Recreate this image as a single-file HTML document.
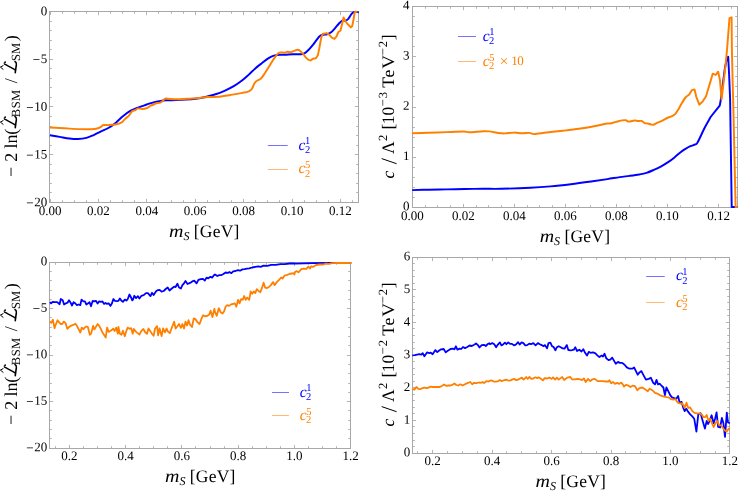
<!DOCTYPE html>
<html><head><meta charset="utf-8"><title>plots</title>
<style>
html,body{margin:0;padding:0;background:#fff;}
body{width:739px;height:493px;overflow:hidden;font-family:"Liberation Serif",serif;}
svg{display:block;will-change:transform;}
text{text-rendering:geometricPrecision;}
</style></head><body>
<svg width="739" height="493" viewBox="0 0 739 493">
<g font-family="Liberation Serif, serif" font-size="13" fill="#000">
<path d="M50.5 202.5v-3.6 M50.5 11.5v3.6 M62.5 202.5v-2.3 M62.5 11.5v2.3 M74.5 202.5v-2.3 M74.5 11.5v2.3 M86.5 202.5v-2.3 M86.5 11.5v2.3 M98.5 202.5v-3.6 M98.5 11.5v3.6 M110.5 202.5v-2.3 M110.5 11.5v2.3 M122.5 202.5v-2.3 M122.5 11.5v2.3 M134.5 202.5v-2.3 M134.5 11.5v2.3 M146.5 202.5v-3.6 M146.5 11.5v3.6 M158.5 202.5v-2.3 M158.5 11.5v2.3 M171.5 202.5v-2.3 M171.5 11.5v2.3 M183.5 202.5v-2.3 M183.5 11.5v2.3 M195.5 202.5v-3.6 M195.5 11.5v3.6 M207.5 202.5v-2.3 M207.5 11.5v2.3 M219.5 202.5v-2.3 M219.5 11.5v2.3 M231.5 202.5v-2.3 M231.5 11.5v2.3 M243.5 202.5v-3.6 M243.5 11.5v3.6 M255.5 202.5v-2.3 M255.5 11.5v2.3 M267.5 202.5v-2.3 M267.5 11.5v2.3 M279.5 202.5v-2.3 M279.5 11.5v2.3 M292.5 202.5v-3.6 M292.5 11.5v3.6 M304.5 202.5v-2.3 M304.5 11.5v2.3 M316.5 202.5v-2.3 M316.5 11.5v2.3 M328.5 202.5v-2.3 M328.5 11.5v2.3 M340.5 202.5v-3.6 M340.5 11.5v3.6 M352.5 202.5v-2.3 M352.5 11.5v2.3 M49.5 202.5h3.6 M358.5 202.5h-3.6 M49.5 192.5h2.3 M358.5 192.5h-2.3 M49.5 183.5h2.3 M358.5 183.5h-2.3 M49.5 173.5h2.3 M358.5 173.5h-2.3 M49.5 164.5h2.3 M358.5 164.5h-2.3 M49.5 154.5h3.6 M358.5 154.5h-3.6 M49.5 145.5h2.3 M358.5 145.5h-2.3 M49.5 135.5h2.3 M358.5 135.5h-2.3 M49.5 126.5h2.3 M358.5 126.5h-2.3 M49.5 116.5h2.3 M358.5 116.5h-2.3 M49.5 106.5h3.6 M358.5 106.5h-3.6 M49.5 97.5h2.3 M358.5 97.5h-2.3 M49.5 87.5h2.3 M358.5 87.5h-2.3 M49.5 78.5h2.3 M358.5 78.5h-2.3 M49.5 68.5h2.3 M358.5 68.5h-2.3 M49.5 59.5h3.6 M358.5 59.5h-3.6 M49.5 49.5h2.3 M358.5 49.5h-2.3 M49.5 40.5h2.3 M358.5 40.5h-2.3 M49.5 30.5h2.3 M358.5 30.5h-2.3 M49.5 21.5h2.3 M358.5 21.5h-2.3 M49.5 11.5h3.6 M358.5 11.5h-3.6" stroke="#b4b4b4" stroke-width="1" fill="none"/>
<rect x="49.5" y="11.5" width="309" height="191" fill="none" stroke="#a8a8a8" stroke-width="1"/>
<text x="50" y="215.1" text-anchor="middle">0.00</text>
<text x="98.4" y="215.1" text-anchor="middle">0.02</text>
<text x="146.8" y="215.1" text-anchor="middle">0.04</text>
<text x="195.2" y="215.1" text-anchor="middle">0.06</text>
<text x="243.6" y="215.1" text-anchor="middle">0.08</text>
<text x="292" y="215.1" text-anchor="middle">0.10</text>
<text x="340.4" y="215.1" text-anchor="middle">0.12</text>
<text transform="translate(47.3,206.15) rotate(0.05)" text-anchor="end"><tspan dy="1.0" letter-spacing="0.7">−</tspan><tspan dy="-1.0">20</tspan></text>
<text transform="translate(47.3,158.4) rotate(0.05)" text-anchor="end"><tspan dy="1.0" letter-spacing="0.7">−</tspan><tspan dy="-1.0">15</tspan></text>
<text transform="translate(47.3,110.65) rotate(0.05)" text-anchor="end"><tspan dy="1.0" letter-spacing="0.7">−</tspan><tspan dy="-1.0">10</tspan></text>
<text transform="translate(47.3,62.9) rotate(0.05)" text-anchor="end"><tspan dy="1.0" letter-spacing="0.7">−</tspan><tspan dy="-1.0">5</tspan></text>
<text transform="translate(47.3,15.15) rotate(0.05)" text-anchor="end">0</text>
<path d="M412.5 207.5v-3.6 M412.5 6.5v3.6 M425.5 207.5v-2.3 M425.5 6.5v2.3 M437.5 207.5v-2.3 M437.5 6.5v2.3 M450.5 207.5v-2.3 M450.5 6.5v2.3 M463.5 207.5v-3.6 M463.5 6.5v3.6 M476.5 207.5v-2.3 M476.5 6.5v2.3 M488.5 207.5v-2.3 M488.5 6.5v2.3 M501.5 207.5v-2.3 M501.5 6.5v2.3 M514.5 207.5v-3.6 M514.5 6.5v3.6 M527.5 207.5v-2.3 M527.5 6.5v2.3 M539.5 207.5v-2.3 M539.5 6.5v2.3 M552.5 207.5v-2.3 M552.5 6.5v2.3 M565.5 207.5v-3.6 M565.5 6.5v3.6 M578.5 207.5v-2.3 M578.5 6.5v2.3 M590.5 207.5v-2.3 M590.5 6.5v2.3 M603.5 207.5v-2.3 M603.5 6.5v2.3 M616.5 207.5v-3.6 M616.5 6.5v3.6 M629.5 207.5v-2.3 M629.5 6.5v2.3 M641.5 207.5v-2.3 M641.5 6.5v2.3 M654.5 207.5v-2.3 M654.5 6.5v2.3 M667.5 207.5v-3.6 M667.5 6.5v3.6 M680.5 207.5v-2.3 M680.5 6.5v2.3 M692.5 207.5v-2.3 M692.5 6.5v2.3 M705.5 207.5v-2.3 M705.5 6.5v2.3 M718.5 207.5v-3.6 M718.5 6.5v3.6 M731.5 207.5v-2.3 M731.5 6.5v2.3 M412.5 207.5h3.6 M737.5 207.5h-3.6 M412.5 197.5h2.3 M737.5 197.5h-2.3 M412.5 187.5h2.3 M737.5 187.5h-2.3 M412.5 177.5h2.3 M737.5 177.5h-2.3 M412.5 167.5h2.3 M737.5 167.5h-2.3 M412.5 157.5h3.6 M737.5 157.5h-3.6 M412.5 147.5h2.3 M737.5 147.5h-2.3 M412.5 137.5h2.3 M737.5 137.5h-2.3 M412.5 127.5h2.3 M737.5 127.5h-2.3 M412.5 117.5h2.3 M737.5 117.5h-2.3 M412.5 107.5h3.6 M737.5 107.5h-3.6 M412.5 96.5h2.3 M737.5 96.5h-2.3 M412.5 86.5h2.3 M737.5 86.5h-2.3 M412.5 76.5h2.3 M737.5 76.5h-2.3 M412.5 66.5h2.3 M737.5 66.5h-2.3 M412.5 56.5h3.6 M737.5 56.5h-3.6 M412.5 46.5h2.3 M737.5 46.5h-2.3 M412.5 36.5h2.3 M737.5 36.5h-2.3 M412.5 26.5h2.3 M737.5 26.5h-2.3 M412.5 16.5h2.3 M737.5 16.5h-2.3 M412.5 6.5h3.6 M737.5 6.5h-3.6" stroke="#b4b4b4" stroke-width="1" fill="none"/>
<rect x="412.5" y="6.5" width="325" height="201" fill="none" stroke="#a8a8a8" stroke-width="1"/>
<text x="412.38" y="220.1" text-anchor="middle">0.00</text>
<text x="463.4" y="220.1" text-anchor="middle">0.02</text>
<text x="514.42" y="220.1" text-anchor="middle">0.04</text>
<text x="565.44" y="220.1" text-anchor="middle">0.06</text>
<text x="616.46" y="220.1" text-anchor="middle">0.08</text>
<text x="667.48" y="220.1" text-anchor="middle">0.10</text>
<text x="718.5" y="220.1" text-anchor="middle">0.12</text>
<text transform="translate(409.4,210.35) rotate(0.05)" text-anchor="end">0</text>
<text transform="translate(409.4,160.1) rotate(0.05)" text-anchor="end">1</text>
<text transform="translate(409.4,109.85) rotate(0.05)" text-anchor="end">2</text>
<text transform="translate(409.4,59.6) rotate(0.05)" text-anchor="end">3</text>
<text transform="translate(409.4,9.35) rotate(0.05)" text-anchor="end">4</text>
<path d="M55.5 448.5v-2.3 M55.5 262.5v2.3 M69.5 448.5v-3.6 M69.5 262.5v3.6 M83.5 448.5v-2.3 M83.5 262.5v2.3 M97.5 448.5v-2.3 M97.5 262.5v2.3 M111.5 448.5v-2.3 M111.5 262.5v2.3 M125.5 448.5v-3.6 M125.5 262.5v3.6 M139.5 448.5v-2.3 M139.5 262.5v2.3 M153.5 448.5v-2.3 M153.5 262.5v2.3 M167.5 448.5v-2.3 M167.5 262.5v2.3 M181.5 448.5v-3.6 M181.5 262.5v3.6 M195.5 448.5v-2.3 M195.5 262.5v2.3 M210.5 448.5v-2.3 M210.5 262.5v2.3 M224.5 448.5v-2.3 M224.5 262.5v2.3 M238.5 448.5v-3.6 M238.5 262.5v3.6 M252.5 448.5v-2.3 M252.5 262.5v2.3 M266.5 448.5v-2.3 M266.5 262.5v2.3 M280.5 448.5v-2.3 M280.5 262.5v2.3 M294.5 448.5v-3.6 M294.5 262.5v3.6 M308.5 448.5v-2.3 M308.5 262.5v2.3 M322.5 448.5v-2.3 M322.5 262.5v2.3 M336.5 448.5v-2.3 M336.5 262.5v2.3 M350.5 448.5v-3.6 M350.5 262.5v3.6 M49.5 448.5h3.6 M350.5 448.5h-3.6 M49.5 438.5h2.3 M350.5 438.5h-2.3 M49.5 429.5h2.3 M350.5 429.5h-2.3 M49.5 420.5h2.3 M350.5 420.5h-2.3 M49.5 410.5h2.3 M350.5 410.5h-2.3 M49.5 401.5h3.6 M350.5 401.5h-3.6 M49.5 392.5h2.3 M350.5 392.5h-2.3 M49.5 383.5h2.3 M350.5 383.5h-2.3 M49.5 373.5h2.3 M350.5 373.5h-2.3 M49.5 364.5h2.3 M350.5 364.5h-2.3 M49.5 355.5h3.6 M350.5 355.5h-3.6 M49.5 345.5h2.3 M350.5 345.5h-2.3 M49.5 336.5h2.3 M350.5 336.5h-2.3 M49.5 327.5h2.3 M350.5 327.5h-2.3 M49.5 317.5h2.3 M350.5 317.5h-2.3 M49.5 308.5h3.6 M350.5 308.5h-3.6 M49.5 299.5h2.3 M350.5 299.5h-2.3 M49.5 290.5h2.3 M350.5 290.5h-2.3 M49.5 280.5h2.3 M350.5 280.5h-2.3 M49.5 271.5h2.3 M350.5 271.5h-2.3 M49.5 262.5h3.6 M350.5 262.5h-3.6" stroke="#b4b4b4" stroke-width="1" fill="none"/>
<rect x="49.5" y="262.5" width="301" height="186" fill="none" stroke="#a8a8a8" stroke-width="1"/>
<text x="69.4" y="459.9" text-anchor="middle">0.2</text>
<text x="125.66" y="459.9" text-anchor="middle">0.4</text>
<text x="181.92" y="459.9" text-anchor="middle">0.6</text>
<text x="238.18" y="459.9" text-anchor="middle">0.8</text>
<text x="294.44" y="459.9" text-anchor="middle">1.0</text>
<text x="350.7" y="459.9" text-anchor="middle">1.2</text>
<text transform="translate(47.3,451.25) rotate(0.05)" text-anchor="end"><tspan dy="1.0" letter-spacing="0.7">−</tspan><tspan dy="-1.0">20</tspan></text>
<text transform="translate(47.3,404.75) rotate(0.05)" text-anchor="end"><tspan dy="1.0" letter-spacing="0.7">−</tspan><tspan dy="-1.0">15</tspan></text>
<text transform="translate(47.3,358.25) rotate(0.05)" text-anchor="end"><tspan dy="1.0" letter-spacing="0.7">−</tspan><tspan dy="-1.0">10</tspan></text>
<text transform="translate(47.3,311.75) rotate(0.05)" text-anchor="end"><tspan dy="1.0" letter-spacing="0.7">−</tspan><tspan dy="-1.0">5</tspan></text>
<text transform="translate(47.3,265.25) rotate(0.05)" text-anchor="end">0</text>
<path d="M417.5 453.5v-2.3 M417.5 257.5v2.3 M432.5 453.5v-3.6 M432.5 257.5v3.6 M447.5 453.5v-2.3 M447.5 257.5v2.3 M462.5 453.5v-2.3 M462.5 257.5v2.3 M477.5 453.5v-2.3 M477.5 257.5v2.3 M492.5 453.5v-3.6 M492.5 257.5v3.6 M506.5 453.5v-2.3 M506.5 257.5v2.3 M521.5 453.5v-2.3 M521.5 257.5v2.3 M536.5 453.5v-2.3 M536.5 257.5v2.3 M551.5 453.5v-3.6 M551.5 257.5v3.6 M566.5 453.5v-2.3 M566.5 257.5v2.3 M581.5 453.5v-2.3 M581.5 257.5v2.3 M596.5 453.5v-2.3 M596.5 257.5v2.3 M611.5 453.5v-3.6 M611.5 257.5v3.6 M625.5 453.5v-2.3 M625.5 257.5v2.3 M640.5 453.5v-2.3 M640.5 257.5v2.3 M655.5 453.5v-2.3 M655.5 257.5v2.3 M670.5 453.5v-3.6 M670.5 257.5v3.6 M685.5 453.5v-2.3 M685.5 257.5v2.3 M700.5 453.5v-2.3 M700.5 257.5v2.3 M715.5 453.5v-2.3 M715.5 257.5v2.3 M729.5 453.5v-3.6 M729.5 257.5v3.6 M412.5 453.5h3.6 M729.5 453.5h-3.6 M412.5 446.5h2.3 M729.5 446.5h-2.3 M412.5 440.5h2.3 M729.5 440.5h-2.3 M412.5 433.5h2.3 M729.5 433.5h-2.3 M412.5 426.5h2.3 M729.5 426.5h-2.3 M412.5 420.5h3.6 M729.5 420.5h-3.6 M412.5 413.5h2.3 M729.5 413.5h-2.3 M412.5 407.5h2.3 M729.5 407.5h-2.3 M412.5 400.5h2.3 M729.5 400.5h-2.3 M412.5 394.5h2.3 M729.5 394.5h-2.3 M412.5 387.5h3.6 M729.5 387.5h-3.6 M412.5 381.5h2.3 M729.5 381.5h-2.3 M412.5 374.5h2.3 M729.5 374.5h-2.3 M412.5 368.5h2.3 M729.5 368.5h-2.3 M412.5 361.5h2.3 M729.5 361.5h-2.3 M412.5 355.5h3.6 M729.5 355.5h-3.6 M412.5 348.5h2.3 M729.5 348.5h-2.3 M412.5 342.5h2.3 M729.5 342.5h-2.3 M412.5 335.5h2.3 M729.5 335.5h-2.3 M412.5 328.5h2.3 M729.5 328.5h-2.3 M412.5 322.5h3.6 M729.5 322.5h-3.6 M412.5 315.5h2.3 M729.5 315.5h-2.3 M412.5 309.5h2.3 M729.5 309.5h-2.3 M412.5 302.5h2.3 M729.5 302.5h-2.3 M412.5 296.5h2.3 M729.5 296.5h-2.3 M412.5 289.5h3.6 M729.5 289.5h-3.6 M412.5 283.5h2.3 M729.5 283.5h-2.3 M412.5 276.5h2.3 M729.5 276.5h-2.3 M412.5 270.5h2.3 M729.5 270.5h-2.3 M412.5 263.5h2.3 M729.5 263.5h-2.3 M412.5 257.5h3.6 M729.5 257.5h-3.6" stroke="#b4b4b4" stroke-width="1" fill="none"/>
<rect x="412.5" y="257.5" width="317" height="196" fill="none" stroke="#a8a8a8" stroke-width="1"/>
<text x="432.6" y="464.9" text-anchor="middle">0.2</text>
<text x="492.07" y="464.9" text-anchor="middle">0.4</text>
<text x="551.54" y="464.9" text-anchor="middle">0.6</text>
<text x="611.01" y="464.9" text-anchor="middle">0.8</text>
<text x="670.48" y="464.9" text-anchor="middle">1.0</text>
<text x="729.95" y="464.9" text-anchor="middle">1.2</text>
<text transform="translate(410.3,456.35) rotate(0.05)" text-anchor="end">0</text>
<text transform="translate(410.3,423.68) rotate(0.05)" text-anchor="end">1</text>
<text transform="translate(410.3,391.02) rotate(0.05)" text-anchor="end">2</text>
<text transform="translate(410.3,358.35) rotate(0.05)" text-anchor="end">3</text>
<text transform="translate(410.3,325.68) rotate(0.05)" text-anchor="end">4</text>
<text transform="translate(410.3,293.02) rotate(0.05)" text-anchor="end">5</text>
<text transform="translate(410.3,260.35) rotate(0.05)" text-anchor="end">6</text>
</g>
<path d="M49.9,135.3 C51.52,135.57 56.35,136.37 59.6,136.9 C62.85,137.43 66.35,138.15 69.4,138.5 C72.45,138.85 75.07,139.1 77.9,139 C80.73,138.9 83.77,138.55 86.4,137.9 C89.03,137.25 91.27,136.18 93.7,135.1 C96.13,134.02 98.57,132.58 101,131.4 C103.43,130.22 105.87,129.42 108.3,128 C110.73,126.58 113.17,124.87 115.6,122.9 C118.03,120.93 120.45,118.2 122.9,116.2 C125.35,114.2 127.92,112.27 130.3,110.9 C132.68,109.53 134.83,108.93 137.2,108 C139.57,107.07 142.07,106.15 144.5,105.3 C146.93,104.45 149.37,103.57 151.8,102.9 C154.23,102.23 156.67,101.73 159.1,101.3 C161.53,100.87 163.55,100.5 166.4,100.3 C169.25,100.1 172.95,100.22 176.2,100.1 C179.45,99.98 182.67,99.83 185.9,99.6 C189.13,99.37 192.35,99.13 195.6,98.7 C198.85,98.27 202.22,97.7 205.4,97 C208.58,96.3 211.52,95.53 214.7,94.5 C217.88,93.47 221.25,92.23 224.5,90.8 C227.75,89.37 231.23,87.65 234.2,85.9 C237.17,84.15 239.87,82.18 242.3,80.3 C244.73,78.42 246.63,76.58 248.8,74.6 C250.97,72.62 253.13,70.3 255.3,68.4 C257.47,66.5 259.65,64.87 261.8,63.2 C263.95,61.53 266.32,59.62 268.2,58.4 C270.08,57.18 271.2,56.5 273.1,55.9 C275,55.3 277.62,54.98 279.6,54.8 C281.58,54.62 282.78,54.9 285,54.8 C287.22,54.7 290.27,54.28 292.9,54.2 C295.53,54.12 298.82,54.48 300.8,54.3 C302.78,54.12 303.48,53.85 304.8,53.1 C306.12,52.35 307.38,51.12 308.7,49.8 C310.02,48.48 311.38,46.85 312.7,45.2 C314.02,43.55 315.4,41.43 316.6,39.9 C317.8,38.37 318.8,36.87 319.9,36 C321,35.13 321.98,34.98 323.2,34.7 C324.42,34.42 325.88,34.7 327.2,34.3 C328.52,33.9 329.78,33.33 331.1,32.3 C332.42,31.27 333.78,29.57 335.1,28.1 C336.42,26.63 337.8,24.75 339,23.5 C340.2,22.25 341.2,21.08 342.3,20.6 C343.4,20.12 344.6,20.9 345.6,20.6 C346.6,20.3 347.42,19.75 348.3,18.8 C349.18,17.85 350.13,15.93 350.9,14.9 C351.67,13.87 352.13,13.08 352.9,12.6 C353.67,12.12 354.52,12.07 355.5,12 C356.48,11.93 358.25,12.17 358.8,12.2" fill="none" stroke="#0000ff" stroke-width="1.95" stroke-linejoin="round"/>
<path d="M49.9,127.5 C51.29,127.57 56.81,127.84 59.6,128 C62.39,128.16 66.61,128.44 69.4,128.6 C72.19,128.76 76.5,129.01 79.1,129.1 C81.7,129.19 85.16,129.26 87.6,129.2 C90.04,129.14 94.37,129 96.2,128.7 C98.03,128.4 99.36,127.63 100.4,127.1 C101.44,126.57 102.37,125.29 103.5,125 C104.63,124.71 106.57,125.17 108.3,125.1 C110.03,125.03 113.69,124.9 115.6,124.5 C117.51,124.1 120.3,123.14 121.7,122.3 C123.1,121.46 124.36,119.56 125.4,118.6 C126.44,117.64 128.04,116.64 129,115.6 C129.96,114.56 131.19,112.07 132.1,111.3 C133.01,110.53 134.59,110.61 135.4,110.2 C136.21,109.79 136.84,108.57 137.8,108.4 C138.76,108.23 140.8,109.04 142.1,109 C143.4,108.96 145.69,108.57 146.9,108.1 C148.11,107.63 149.64,106.19 150.6,105.7 C151.56,105.21 152.91,105.01 153.6,104.7 C154.29,104.39 154.44,103.8 155.4,103.5 C156.36,103.2 159.24,102.94 160.3,102.6 C161.36,102.26 162.1,101.67 162.8,101.1 C163.5,100.53 164.16,98.9 165.2,98.6 C166.24,98.3 168.01,98.91 170.1,99 C172.19,99.09 177.03,99.24 179.8,99.2 C182.57,99.16 186.71,98.87 189.5,98.7 C192.29,98.53 196.69,98.24 199.3,98 C201.91,97.76 205.13,97.17 207.8,97 C210.47,96.83 214.7,97.1 218,96.8 C221.3,96.5 227.43,95.46 230.9,94.9 C234.37,94.34 239.74,93.41 242.3,92.9 C244.86,92.39 247.41,91.9 248.8,91.3 C250.19,90.7 251.19,89.86 252,88.7 C252.81,87.54 253.8,84.33 254.5,83.2 C255.2,82.07 255.99,81.46 256.9,80.8 C257.81,80.14 259.74,79.71 260.9,78.6 C262.06,77.49 263.83,74.73 265,73 C266.17,71.27 268.17,68.01 269.1,66.5 C270.03,64.99 270.7,63.67 271.5,62.4 C272.3,61.13 273.77,58.87 274.7,57.6 C275.63,56.33 277.19,54.24 278,53.5 C278.81,52.76 279.4,52.51 280.4,52.4 C281.4,52.29 283.97,52.79 285,52.7 C286.03,52.61 286.84,51.87 287.6,51.8 C288.36,51.73 289.36,52.33 290.3,52.2 C291.24,52.07 293.17,51.24 294.2,50.9 C295.23,50.56 296.64,49.8 297.5,49.8 C298.36,49.8 299.34,50.24 300.2,50.9 C301.06,51.56 302.57,53.33 303.5,54.4 C304.43,55.47 305.77,57.54 306.7,58.4 C307.63,59.26 309.06,60.37 310,60.4 C310.94,60.43 312.44,58.93 313.3,58.6 C314.16,58.27 315.34,58.6 316,58.1 C316.66,57.6 317.63,55.53 317.9,55.1 L319.5,47.2 L321.2,37.9 L322.6,34 L326.5,33.1 L329.2,34.7 L331.8,37.7 L334.4,38.9 L336.4,36.6 L338.4,32 L340.4,30.7 L341.9,24.8 L343.6,17.5 L345.6,21.5 L348.3,24.8 L350.9,27.4 L352.2,26.1 L353.5,19.5 L354.6,12.9 L355.5,11.6 L357.5,11.9" fill="none" stroke="#ff8000" stroke-width="1.95" stroke-linejoin="round"/>
<path d="M412.2,190.1 C414.87,190.03 422.48,189.82 428.2,189.7 C433.92,189.58 440.42,189.52 446.5,189.4 C452.58,189.28 458.62,189.1 464.7,189 C470.78,188.9 476.92,188.83 483,188.8 C489.08,188.77 493.32,188.97 501.2,188.8 C509.08,188.63 522.07,188.2 530.3,187.8 C538.53,187.4 543.83,187 550.6,186.4 C557.37,185.8 564.15,185.02 570.9,184.2 C577.65,183.38 585.02,182.35 591.1,181.5 C597.18,180.65 602.63,179.83 607.4,179.1 C612.17,178.37 616.02,177.63 619.7,177.1 C623.38,176.57 626.25,176.33 629.5,175.9 C632.75,175.47 636.37,175 639.2,174.5 C642.03,174 644.07,173.67 646.5,172.9 C648.93,172.13 651.35,171 653.8,169.9 C656.25,168.8 658.75,167.63 661.2,166.3 C663.65,164.97 666.28,163.38 668.5,161.9 C670.72,160.42 672.48,159.02 674.5,157.4 C676.52,155.78 678.77,153.62 680.6,152.2 C682.43,150.78 683.87,149.9 685.5,148.9 C687.13,147.9 688.77,146.95 690.4,146.2 C692.03,145.45 694.08,145.07 695.3,144.4 C696.52,143.73 696.1,145.05 697.7,142.2 C699.3,139.35 702.75,131.5 704.9,127.3 C707.05,123.1 709.65,118.72 710.6,117 L719.7,105.7 L720.9,99.3 L722.5,86.5 L724.9,68.2 L727,57.9 L728.2,56.7 L729.1,74.3 L730.1,98.7 L731.7,207 L737.5,207" fill="none" stroke="#0000ff" stroke-width="1.95" stroke-linejoin="round"/>
<path d="M412.2,133.2 C414.49,133.14 423.3,132.96 428.2,132.8 C433.1,132.64 441.41,132.29 446.5,132.1 C451.59,131.91 460.54,131.47 463.8,131.5 C467.06,131.53 466.56,132.34 469.3,132.3 C472.04,132.26 480.13,131.33 483,131.2 C485.87,131.07 487.19,131.14 489.4,131.4 C491.61,131.66 496.29,132.71 498.5,133 C500.71,133.29 502.69,133.46 504.9,133.4 C507.11,133.34 511.53,132.61 514,132.6 C516.47,132.59 520.01,133.26 522.2,133.3 C524.39,133.34 527.57,132.79 529.3,132.9 C531.03,133.01 531.84,134.16 534.3,134.1 C536.76,134.04 542.44,132.97 546.5,132.5 C550.56,132.03 558.06,131.33 562.7,130.8 C567.34,130.27 574.36,129.49 579,128.8 C583.64,128.11 591.14,126.76 595.2,126 C599.26,125.24 605.29,123.86 607.4,123.5 C609.51,123.14 608.76,123.73 610,123.5 C611.24,123.27 614.36,122.34 616.1,121.9 C617.84,121.46 620.81,120.64 622.2,120.4 C623.59,120.16 624.84,120.03 625.8,120.2 C626.76,120.37 627.67,121.56 628.9,121.6 C630.13,121.64 633.1,120.59 634.4,120.5 C635.7,120.41 636.96,120.93 638,121 C639.04,121.07 640.74,120.7 641.7,121 C642.66,121.3 643.83,122.74 644.7,123.1 C645.57,123.46 646.84,123.29 647.8,123.5 C648.76,123.71 650.54,124.44 651.4,124.6 C652.26,124.76 652.93,124.87 653.8,124.6 C654.67,124.33 656.27,123.26 657.5,122.7 C658.73,122.14 661.01,121.37 662.4,120.7 C663.79,120.03 665.81,118.64 667.2,118 C668.59,117.36 670.96,116.74 672.1,116.2 C673.24,115.66 674.33,115.13 675.2,114.2 C676.07,113.27 677.24,111.3 678.2,109.7 C679.16,108.1 680.86,104.74 681.9,103 C682.94,101.26 684.46,98.71 685.5,97.5 C686.54,96.29 688.67,94.93 689.2,94.5 L692,90.1 L694.5,89.5 L696.3,96.8 L699.3,104.7 L703,101.1 L706,96.2 L709.7,84.1 L712.7,73.7 L715.8,74.9 L718.2,71.7 L720,80.4 L721.6,99.3 L723.1,86.5 L725.5,65.8 L727,50 L729.5,18.2 L731.6,17.3 L731.9,50 L732.6,80.4 L733.4,109.6 L735.6,207 L737.5,207" fill="none" stroke="#ff8000" stroke-width="1.95" stroke-linejoin="round"/>
<polyline points="49.9,302.1 51.1,303.3 52.6,301.8 54.7,302.1 57.2,302.1 59.6,304.2 60.8,299 62.7,300.2 64.1,304.5 65.9,303.3 67.5,302.7 69,300.2 70.6,302.7 72,305.5 73.6,302.1 75.4,303.5 76.9,305.1 78.5,304.5 80.3,305.1 81.5,299.6 83.4,301.4 84.9,301.4 86.4,304.5 88.2,303.3 89.5,302.1 91,306.3 92.7,300.8 94.3,301.4 95.9,300.8 97.6,303.5 99.2,301.4 101,301.8 102.5,301.4 104.1,303.9 105.5,303 107.1,303.9 108.6,303.3 110.5,305.9 112,303.3 113.4,299 115,300.8 116.9,301.1 118.4,300.8 119.9,298.4 121.5,300.8 122.9,301.8 124.8,299.6 126.4,300.6 127.8,299 129.4,294.5 131.2,297.8 132.3,300.4 132.9,299.9 134.3,295.8 136.1,298.1 137.9,296.1 139.4,298.6 141.4,295.8 143.7,295.1 146,293.1 147.9,293.1 150.5,296.1 152,292.8 153.6,295.1 156.1,291.3 157.7,290.1 159.6,289.8 161.6,291.6 163.7,291 165.7,289 167.7,287.5 169.5,290.5 171.8,288.5 174.1,286.7 175.6,287 177.4,283.7 179,287.5 180.9,288.5 182.4,285.2 184,283.4 185.5,280.9 187.5,284 190,282.9 192.3,281.4 194.2,280.6 196.6,283.4 198.4,279.9 200.7,279.1 203,278.8 204.8,280.6 206.5,277.6 208.3,278.4 210.3,276.8 212.1,277.6 213.9,275.3 215,274.5 217.3,276 219.3,275.1 221.1,275.2 223.4,274 225.6,272.5 227.9,272.9 229.4,272 231.4,273.2 233.2,271.4 235.5,271 237.8,270.2 240.1,270.7 242.4,269.4 244.6,269.1 246.9,268.7 249.2,268.4 252.2,267.5 255.3,266.9 258.3,266.4 260.6,266.9 263.6,265.6 267.4,265.9 271.2,264.9 275.8,264.9 280.4,264.1 284.9,264.1 289.5,263.5 294.1,263.4 295,263.6 303.8,263.4 312.6,263.2 330.2,263 351.3,263" fill="none" stroke="#0000ff" stroke-width="1.8" stroke-linejoin="round" stroke-linecap="butt"/>
<polyline points="49.9,321.5 51.3,322.8 52.9,319.7 54.5,328.2 56,324 57.5,320.3 59,322.1 60.6,324 62.1,324 63.9,321.5 65.7,323.4 67.3,328.8 69.1,327 70.8,325.8 72.4,325.2 74,324.6 75.4,323.7 76.9,325.8 78.5,328.8 80.3,332.5 81.8,327.6 83.4,329.1 84.9,327.4 86.4,326.4 87.9,327 89.8,334.9 91.3,333.1 93.1,325.8 94.3,329.5 96.2,326.4 97.7,324 99.2,325.8 100.8,328.8 102.2,331.9 104.1,334.9 105.7,337.6 107.1,327.6 108.6,331.9 110.2,331 111.7,330.1 113.2,328.6 114.7,331 116.2,327.6 117.8,333.7 118.4,327 119.9,333.7 121.5,334.7 122.9,330.7 124.8,336.2 126.4,330.7 127.8,327.6 129.4,328.8 131.2,328.2 132.7,333.7 133.8,329 135.8,331.6 137.6,333.1 139.4,334.6 141.4,330.8 143.4,329 145.2,332.3 147,333.8 148.5,328.5 150.5,331.6 152,333.8 153.6,335.7 155.1,328.5 157.1,326.2 158.1,335.4 159.6,328.5 161.6,336.1 163.1,328.5 165,332.3 166.5,328.5 168,331.6 169.8,333.1 171.8,327.8 174.1,321.7 175.6,328.5 177.4,326.2 179,324 180.9,327.8 182.4,324 184,328.5 185.5,321.7 187,325.5 188.5,320.2 190,324.7 192,327 193.8,318.3 195.7,319.4 197.6,322.4 199.6,324 201.5,318.6 203,315.3 205.3,316.4 207.5,315.6 209.1,314.8 210.6,310.7 212.4,317.1 214.4,308.8 215,312 216.8,315.8 218.8,308.2 220.8,312.5 222.6,313.5 224.1,311.2 225.6,306.7 227.2,305.2 229,305.9 231,304.4 232.9,304 234.8,303.3 236.3,306.7 238.1,299.8 239.6,303.3 241.1,299.1 242.7,299.8 244.2,296 245.7,299.8 247.2,297.6 249.2,299.8 250.7,291.5 252.2,293.8 253.8,291.5 255.3,293 256.8,289.2 258.3,290.7 260.3,292.2 262.1,287.7 263.6,282.7 265.2,287.7 267,288.1 269,286.9 270.9,285.1 273.1,282.1 274.6,285.1 276.6,282.4 278.8,280.1 281.1,277.5 282.6,278.6 284.6,275.5 287.2,274.8 289.5,274 291.8,273.5 293.3,273.2 294.4,274.5 295,272 296.8,271.1 298.5,272.4 301.6,268.9 303.8,268.6 306.4,268.9 308.4,266.7 310,268.5 311.3,266.3 313,266.9 316.1,265 319.6,264.5 323.1,264.5 325.8,263.6 329.3,263.9 331.9,263.2 336.3,263 351.3,263" fill="none" stroke="#ff8000" stroke-width="1.8" stroke-linejoin="round" stroke-linecap="butt"/>
<polyline points="412.3,355.4 414.8,355.1 417.1,354.6 419.4,354.2 421.4,354.6 422.7,353.1 424.4,356.2 427,352.4 429.3,353.1 430.8,352.7 432.6,354.2 435.4,350.1 437.2,352.1 439.2,350.5 441.1,349.3 443.7,349 445.7,352.4 447.8,350.8 450.6,349 452.8,348.6 454.4,349.3 455.9,346.3 457.4,349.6 459.7,348.6 461.2,349 463,347 465,348.1 467.3,347 469.6,345.5 471.8,346 474.1,344.8 476.1,343.5 477.9,345.1 479.5,347.5 481.7,345.1 484,344.8 485.8,346 487.8,344 489.3,343.2 490,344.2 492.3,343.1 494.3,344.2 496.1,347.2 497.9,344.6 499.9,342.4 501.4,345.4 503.4,344.2 504.9,342.7 506.4,344.2 508.2,342.4 510.1,343.9 512,343.9 514,345.4 515.8,344.6 518.1,342.1 519.6,344.6 521.6,342.4 523.4,343.1 525.3,345.4 527.2,345.1 529.2,343.6 531,344.2 533.3,343.1 535.6,345.4 537.9,343.1 539.9,344.2 541.7,345.1 543.5,346.2 545,345.1 547,348.4 548.5,343.1 550.4,342.7 552,346.2 553.5,346.9 555.4,350.3 556.9,347.2 558.7,346.2 560.7,347.2 562.7,348.4 564.5,348.7 566.8,345.1 568.3,350 570.6,350.3 572,350.1 573.8,349.7 575.3,347.3 577.1,351 579.3,349.7 581.5,351.5 583.3,349.2 585.1,352.8 587,355.6 588.8,351.9 590.6,352.8 593,352.3 595.4,353.4 597.6,355.6 599.4,357 601.6,355.6 603,356.5 604.5,353.7 606.3,358.3 608.5,360.1 610.3,359.6 612.2,357.7 614.4,361.4 615.8,363.8 618,361.9 619.8,362.9 622.2,362.9 624.6,364.7 626.8,367.4 629.5,368.7 632.2,368.7 634.1,367.4 635.9,371.1 637.7,374.7 639.5,372.4 641.4,371.1 643.6,375.3 645.9,379.7 648.7,378.9 650.9,377.8 653.2,382.9 655,384.4 656.5,379.9 658,384.4 659.6,383.7 661.8,386 663.4,387.5 664.9,395.1 666.4,387.5 668.4,391.3 670.2,395.1 672,397.4 674,398.1 676.3,398.9 678.1,395.9 679.6,402.7 681.6,401.9 683.1,407.3 684.7,411.1 686.2,408.8 687.7,411.1 690,414.1 692.3,416.4 694.2,418.7 696.4,431.6 698.3,414.1 700.6,413.3 702.5,420.2 704.9,428.6 706.7,421 708.2,424 710.1,419.4 711.6,415.3 713.6,423.2 715.1,418.7 716.6,412.3 718.1,427 720.1,427.5 721.9,417.9 723.4,423.2 725,436.9 726.8,412.6 728,422.5 729.8,423.2" fill="none" stroke="#0000ff" stroke-width="1.8" stroke-linejoin="round" stroke-linecap="butt"/>
<polyline points="412.3,388.8 414.4,389.6 416.4,387 418.3,388.8 420.2,389.2 422.4,388.1 424.7,387.6 427,388.1 429,387.3 430.8,386.6 433.1,387 435.4,387 437.6,387 439.9,387 442.2,385.8 444.2,384.6 446,385.8 448.3,385.5 450.6,385.5 452.8,384.6 454.4,383.5 456.3,385 458.2,385.5 460.4,384.3 462.7,385.5 465,384.3 467.3,383.1 470.3,382 472.2,384.3 474.1,382.8 476.4,383.1 478.7,382.5 481,382.8 482.5,382 484,383.1 486.3,381.2 488.6,381.6 490,380.7 491.8,380.4 493.8,381.6 496.1,381.6 498.4,381.1 499.9,380.1 501.4,381.1 503.7,380.4 506,379.6 507.9,380.4 509.8,380.7 512,379.6 514,378.8 515.8,380.1 518.1,379.6 520.1,378.5 521.9,377.6 523.7,379.6 526.2,377 527.7,378.8 529.5,377 531.3,378.8 533.3,378.5 535.3,377.3 537.1,378.1 538.6,377.3 540.9,378.8 542.9,380.4 544.7,378.1 547,378.5 549.3,377.6 551.6,378.8 553.1,377.3 555.1,379.6 556.9,377.6 558.7,379.6 560.7,378.1 562.2,377 564.2,380.1 566,378.5 568.3,377.3 570.3,377 572,379.3 574.7,379.3 577.5,378.9 580.2,379.3 582,380.2 583.9,378.4 585.7,382 588.1,378.9 590.3,381.1 592.4,379.3 594.8,378.9 597.6,381.1 600.3,381.1 603,381.1 605.8,381.5 608.5,381.5 609.4,380.2 611.2,383.3 613.1,382 614.9,383.9 617.3,382.9 619.1,383.9 621.3,382.6 623.1,384.8 624,386.6 625.9,384.8 628.6,385.7 630.4,387 632.6,385.7 635,386.2 637.4,390.2 639.5,388.1 642.3,387.5 645,389.3 647.8,391.2 649.6,388.8 652.3,390.2 655,392.8 657.3,393.6 659.6,395.1 661.8,395.9 664.1,396.6 666.4,397.1 668.7,397.4 671,399.2 673.3,399.7 675.5,399.2 677.8,402.7 680.1,403.5 682.4,403.5 684.7,407.7 686.5,402.7 688.2,408 690,407.3 692.3,411.1 694.5,412.9 696.8,413.3 699.1,413.3 701.4,414.1 703.4,417.1 705.2,417.1 706.7,414.9 708.5,421 710.1,418.7 711.6,422.5 713.6,427 715.5,423.2 717.1,421 718.9,424.8 721.2,425.5 723.4,428.6 725.3,430.8 726.8,431.6 728.8,428.6 729.8,429.3" fill="none" stroke="#ff8000" stroke-width="1.8" stroke-linejoin="round" stroke-linecap="butt"/>
<line x1="267.8" y1="145.5" x2="287.7" y2="145.5" stroke="#0000ff" stroke-width="1" stroke-opacity="0.55"/>
<g fill="#0000ff" font-family="Liberation Serif, serif">
<text x="298.6" y="149.6" font-size="15.5" font-style="italic">c</text>
<text x="305" y="144.4" font-size="10.5">1</text>
<text x="304.9" y="152.9" font-size="10.5">2</text>
</g>
<line x1="267.8" y1="169.5" x2="287.7" y2="169.5" stroke="#ff8000" stroke-width="1" stroke-opacity="0.55"/>
<g fill="#ff8000" font-family="Liberation Serif, serif">
<text x="298.6" y="173.4" font-size="15.5" font-style="italic">c</text>
<text x="305" y="168.2" font-size="10.5">5</text>
<text x="304.9" y="176.7" font-size="10.5">2</text>
</g>
<line x1="458" y1="36.5" x2="476" y2="36.5" stroke="#0000ff" stroke-width="1" stroke-opacity="0.55"/>
<g fill="#0000ff" font-family="Liberation Serif, serif">
<text x="482.8" y="40.5" font-size="15.5" font-style="italic">c</text>
<text x="489.2" y="35.3" font-size="10.5">1</text>
<text x="489.1" y="43.8" font-size="10.5">2</text>
</g>
<line x1="458" y1="61.5" x2="476" y2="61.5" stroke="#ff8000" stroke-width="1" stroke-opacity="0.55"/>
<g fill="#ff8000" font-family="Liberation Serif, serif">
<text x="482.8" y="65.7" font-size="15.5" font-style="italic">c</text>
<text x="489.2" y="60.5" font-size="10.5">5</text>
<text x="489.1" y="69" font-size="10.5">2</text>
<text x="499.8" y="66.3" font-size="15">×</text>
<text x="511.2" y="65.2" font-size="13" letter-spacing="-0.4">10</text>
</g>
<line x1="272" y1="392.5" x2="289" y2="392.5" stroke="#0000ff" stroke-width="1" stroke-opacity="0.55"/>
<g fill="#0000ff" font-family="Liberation Serif, serif">
<text x="299.8" y="396.6" font-size="15.5" font-style="italic">c</text>
<text x="306.2" y="391.4" font-size="10.5">1</text>
<text x="306.1" y="399.9" font-size="10.5">2</text>
</g>
<line x1="272" y1="415.5" x2="289" y2="415.5" stroke="#ff8000" stroke-width="1" stroke-opacity="0.55"/>
<g fill="#ff8000" font-family="Liberation Serif, serif">
<text x="299.8" y="419.7" font-size="15.5" font-style="italic">c</text>
<text x="306.2" y="414.5" font-size="10.5">5</text>
<text x="306.1" y="423" font-size="10.5">2</text>
</g>
<line x1="646.2" y1="276.5" x2="664.7" y2="276.5" stroke="#0000ff" stroke-width="1" stroke-opacity="0.55"/>
<g fill="#0000ff" font-family="Liberation Serif, serif">
<text x="675.9" y="280.4" font-size="15.5" font-style="italic">c</text>
<text x="682.3" y="275.2" font-size="10.5">1</text>
<text x="682.2" y="283.7" font-size="10.5">2</text>
</g>
<line x1="646.2" y1="302.5" x2="664.7" y2="302.5" stroke="#ff8000" stroke-width="1" stroke-opacity="0.55"/>
<g fill="#ff8000" font-family="Liberation Serif, serif">
<text x="675.9" y="306.8" font-size="15.5" font-style="italic">c</text>
<text x="682.3" y="301.6" font-size="10.5">5</text>
<text x="682.2" y="310.1" font-size="10.5">2</text>
</g>
<g fill="#000" font-family="Liberation Serif, serif"><text transform="translate(169,237.1) scale(1.11,1)" font-size="18" font-style="italic">m</text><text x="183.4" y="239.8" font-size="12" font-style="italic">S</text><text x="193.8" y="237.1" font-size="17.5" letter-spacing="0.2">[GeV]</text></g>
<g fill="#000" font-family="Liberation Serif, serif"><text transform="translate(539.7,241.8) scale(1.11,1)" font-size="18" font-style="italic">m</text><text x="554.1" y="244.5" font-size="12" font-style="italic">S</text><text x="564.5" y="241.8" font-size="17.5" letter-spacing="0.2">[GeV]</text></g>
<g fill="#000" font-family="Liberation Serif, serif"><text transform="translate(165.05,482.1) scale(1.11,1)" font-size="18" font-style="italic">m</text><text x="179.45" y="484.8" font-size="12" font-style="italic">S</text><text x="189.85" y="482.1" font-size="17.5" letter-spacing="0.2">[GeV]</text></g>
<g fill="#000" font-family="Liberation Serif, serif"><text transform="translate(535.5,487.4) scale(1.11,1)" font-size="18" font-style="italic">m</text><text x="549.9" y="490.1" font-size="12" font-style="italic">S</text><text x="560.3" y="487.4" font-size="17.5" letter-spacing="0.2">[GeV]</text></g>
<g transform="translate(16.8,176.6) rotate(-90)" fill="#000" font-family="Liberation Serif, serif">
<text x="-0.5" y="0" font-size="18">−</text>
<text x="14.8" y="0" font-size="18">2</text>
<text x="28.1" y="0" font-size="18">ln</text>
<text x="41.9" y="0" font-size="18">(</text>
<g transform="translate(48.5,0) scale(1,-1)" fill="none" stroke="#000" stroke-linecap="round" stroke-linejoin="round"><path d="M3.0,1.2 C5.0,4.6 6.9,8.4 8.9,12.1" stroke-width="1.5"/><path d="M8.9,12.1 C9.4,13.1 10.6,13.2 10.95,12.0" stroke-width="0.9"/><circle cx="10.95" cy="11.6" r="0.8" fill="#000" stroke="none"/><path d="M0.4,1.5 C2.6,1.5 5.5,0.8 8.2,0.45 C9.8,0.3 11.0,0.6 11.5,1.8" stroke-width="1.6"/><path d="M3.8,13.7 L6.0,16.4 L7.5,13.7" stroke-width="1.0"/></g>
<text x="59.4" y="3" font-size="12.5" letter-spacing="0.5">BSM</text>
<text x="93.3" y="0" font-size="18">/</text>
<g transform="translate(103.5,0) scale(1,-1)" fill="none" stroke="#000" stroke-linecap="round" stroke-linejoin="round"><path d="M3.0,1.2 C5.0,4.6 6.9,8.4 8.9,12.1" stroke-width="1.5"/><path d="M8.9,12.1 C9.4,13.1 10.6,13.2 10.95,12.0" stroke-width="0.9"/><circle cx="10.95" cy="11.6" r="0.8" fill="#000" stroke="none"/><path d="M0.4,1.5 C2.6,1.5 5.5,0.8 8.2,0.45 C9.8,0.3 11.0,0.6 11.5,1.8" stroke-width="1.6"/><path d="M3.8,13.7 L6.0,16.4 L7.5,13.7" stroke-width="1.0"/></g>
<text x="115.7" y="3" font-size="12.5">SM</text>
<text x="135.3" y="0" font-size="18">)</text>
</g>
<g transform="translate(16.8,424.6) rotate(-90)" fill="#000" font-family="Liberation Serif, serif">
<text x="-0.5" y="0" font-size="18">−</text>
<text x="14.8" y="0" font-size="18">2</text>
<text x="28.1" y="0" font-size="18">ln</text>
<text x="41.9" y="0" font-size="18">(</text>
<g transform="translate(48.5,0) scale(1,-1)" fill="none" stroke="#000" stroke-linecap="round" stroke-linejoin="round"><path d="M3.0,1.2 C5.0,4.6 6.9,8.4 8.9,12.1" stroke-width="1.5"/><path d="M8.9,12.1 C9.4,13.1 10.6,13.2 10.95,12.0" stroke-width="0.9"/><circle cx="10.95" cy="11.6" r="0.8" fill="#000" stroke="none"/><path d="M0.4,1.5 C2.6,1.5 5.5,0.8 8.2,0.45 C9.8,0.3 11.0,0.6 11.5,1.8" stroke-width="1.6"/><path d="M3.8,13.7 L6.0,16.4 L7.5,13.7" stroke-width="1.0"/></g>
<text x="59.4" y="3" font-size="12.5" letter-spacing="0.5">BSM</text>
<text x="93.3" y="0" font-size="18">/</text>
<g transform="translate(103.5,0) scale(1,-1)" fill="none" stroke="#000" stroke-linecap="round" stroke-linejoin="round"><path d="M3.0,1.2 C5.0,4.6 6.9,8.4 8.9,12.1" stroke-width="1.5"/><path d="M8.9,12.1 C9.4,13.1 10.6,13.2 10.95,12.0" stroke-width="0.9"/><circle cx="10.95" cy="11.6" r="0.8" fill="#000" stroke="none"/><path d="M0.4,1.5 C2.6,1.5 5.5,0.8 8.2,0.45 C9.8,0.3 11.0,0.6 11.5,1.8" stroke-width="1.6"/><path d="M3.8,13.7 L6.0,16.4 L7.5,13.7" stroke-width="1.0"/></g>
<text x="115.7" y="3" font-size="12.5">SM</text>
<text x="135.3" y="0" font-size="18">)</text>
</g>
<g transform="translate(393.7,178.1) rotate(-90)" fill="#000" font-family="Liberation Serif, serif">
<text x="-0.3" y="0" font-size="17.5" font-style="italic">c</text>
<line x1="14.4" y1="2.9" x2="19.5" y2="-12.0" stroke="#000" stroke-width="1.0"/>
<text x="24.2" y="0" font-size="17.5">Λ</text>
<text x="37.2" y="-6.3" font-size="12.5">2</text>
<text x="48.5" y="0" font-size="17.5">[</text>
<text x="53.8" y="0" font-size="17.5">10</text>
<text x="71.8" y="-6.3" font-size="12.5" letter-spacing="1.0">−3</text>
<text x="90.3" y="0" font-size="17.5">T</text>
<text x="100.6" y="0" font-size="17.5">e</text>
<text transform="translate(109.3,0) scale(1.09,1)" font-size="17.5">V</text>
<text x="122.8" y="-6.3" font-size="12.5" letter-spacing="1.0">−2</text>
<text x="137.9" y="0" font-size="17.5">]</text>
</g>
<g transform="translate(393.7,426.1) rotate(-90)" fill="#000" font-family="Liberation Serif, serif">
<text x="-0.3" y="0" font-size="17.5" font-style="italic">c</text>
<line x1="14.4" y1="2.9" x2="19.5" y2="-12.0" stroke="#000" stroke-width="1.0"/>
<text x="24.2" y="0" font-size="17.5">Λ</text>
<text x="37.2" y="-6.3" font-size="12.5">2</text>
<text x="48.5" y="0" font-size="17.5">[</text>
<text x="53.8" y="0" font-size="17.5">10</text>
<text x="71.8" y="-6.3" font-size="12.5" letter-spacing="1.0">−2</text>
<text x="90.3" y="0" font-size="17.5">T</text>
<text x="100.6" y="0" font-size="17.5">e</text>
<text transform="translate(109.3,0) scale(1.09,1)" font-size="17.5">V</text>
<text x="122.8" y="-6.3" font-size="12.5" letter-spacing="1.0">−2</text>
<text x="137.9" y="0" font-size="17.5">]</text>
</g>
</svg>
</body></html>
